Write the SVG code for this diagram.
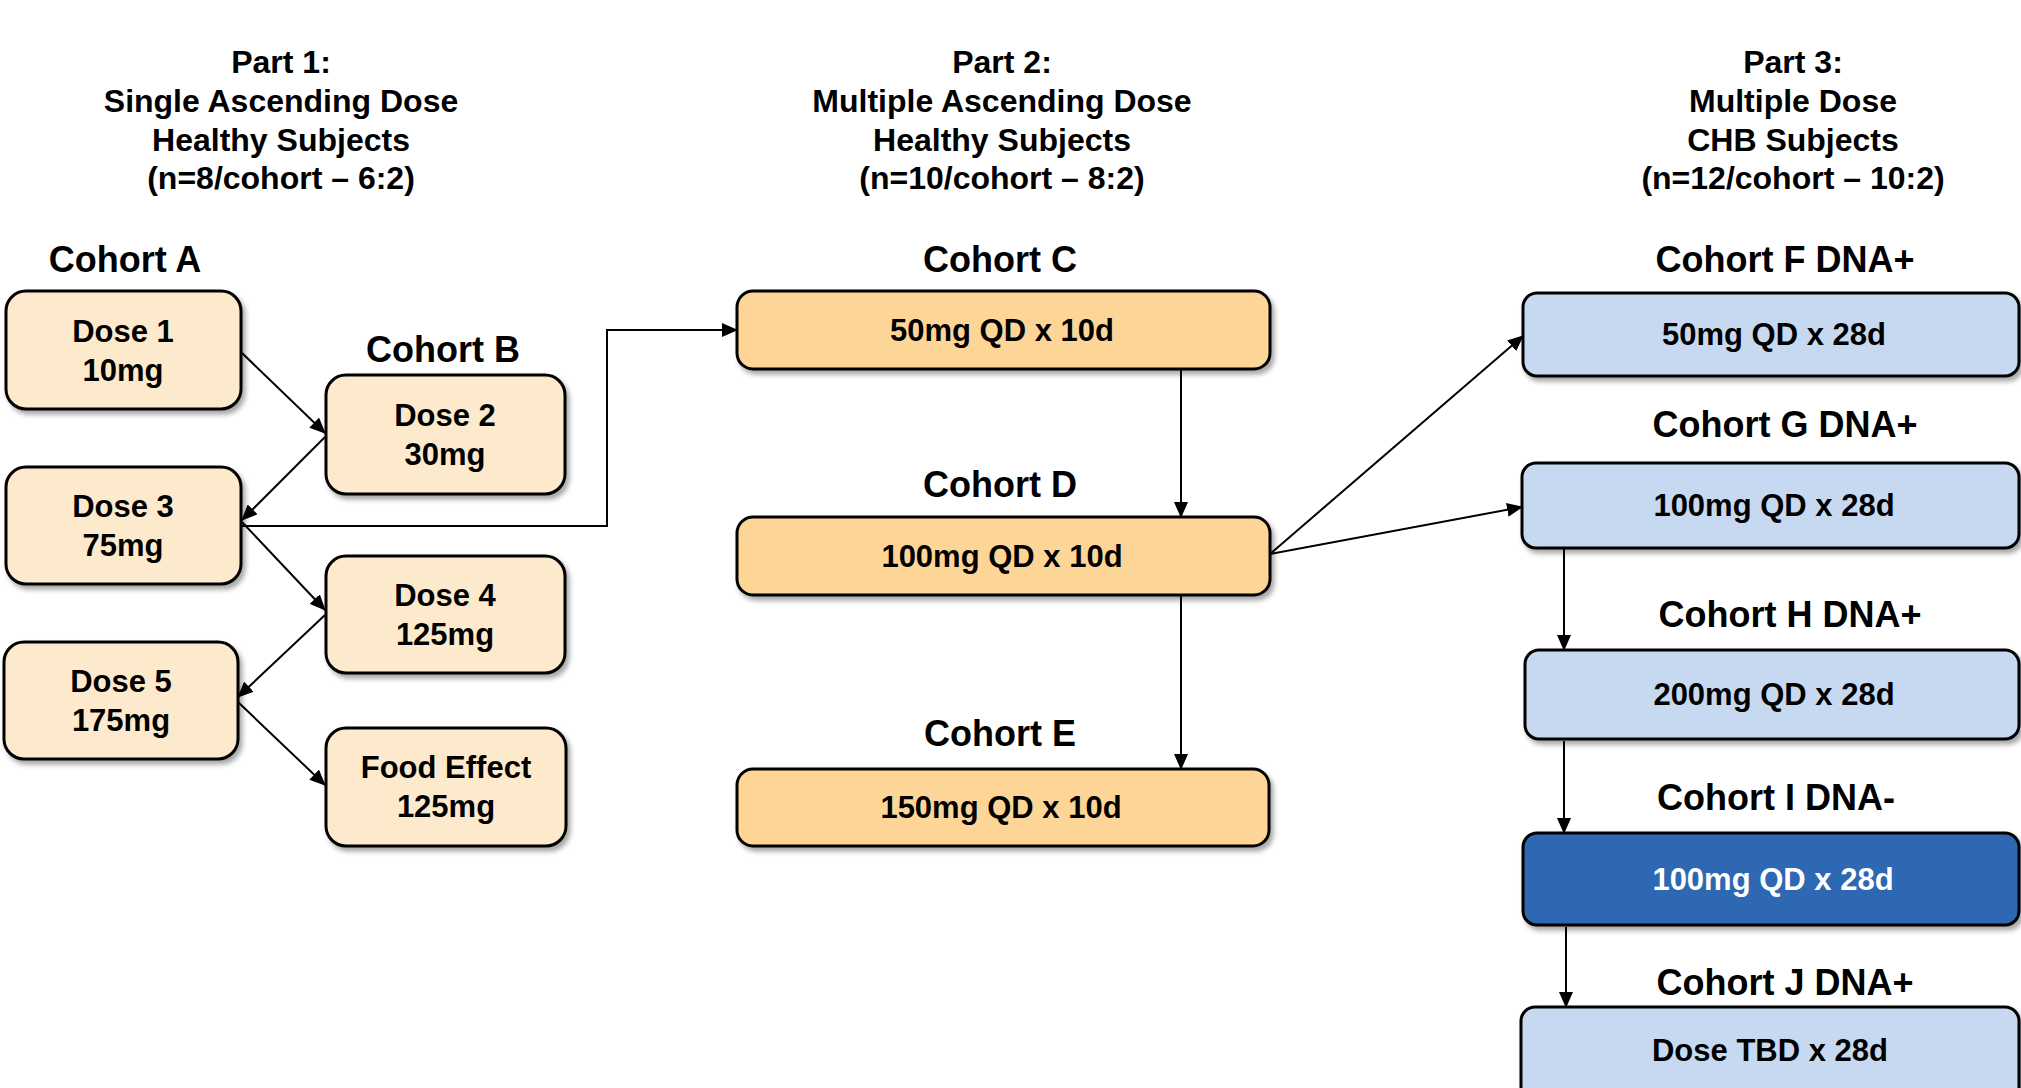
<svg xmlns="http://www.w3.org/2000/svg" width="2021" height="1088" viewBox="0 0 2021 1088">
  <style>
    text { font-family: "Liberation Sans", Arial, sans-serif; font-weight: bold; fill: #000; text-anchor: middle; }
    .title { font-size: 32px; }
    .cohort { font-size: 36px; }
    .lbl { font-size: 31px; }
    .lbl-inv { font-size: 31px; fill: #fff; }
    .box { stroke: #000; stroke-width: 3; filter: url(#shadow); }
    .sad { fill: #FDEACC; }
    .mad { fill: #FDD596; }
    .chb { fill: #C6D9F1; }
    .chb-neg { fill: #2F67B2; }
    .conn { fill: none; stroke: #000; stroke-width: 2; marker-end: url(#arrow); }
  </style>
  <defs>
    <filter id="shadow" x="-10%" y="-10%" width="125%" height="140%">
      <feDropShadow dx="3" dy="4" stdDeviation="2.5" flood-color="#000" flood-opacity="0.35"/>
    </filter>
    <marker id="arrow" markerUnits="userSpaceOnUse" markerWidth="16" markerHeight="14" refX="15" refY="7" orient="auto">
      <path d="M0,0 L16,7 L0,14 Z" fill="#000"/>
    </marker>
  </defs>

  <rect width="2021" height="1088" fill="#fff"/>

  <!-- Part headings -->
  <g id="part1-heading" class="title">
    <text x="281" y="73" class="title">Part 1:</text>
    <text x="281" y="112" class="title">Single Ascending Dose</text>
    <text x="281" y="151" class="title">Healthy Subjects</text>
    <text x="281" y="189" class="title">(n=8/cohort – 6:2)</text>
  </g>
  <g id="part2-heading">
    <text x="1002" y="73" class="title">Part 2:</text>
    <text x="1002" y="112" class="title">Multiple Ascending Dose</text>
    <text x="1002" y="151" class="title">Healthy Subjects</text>
    <text x="1002" y="189" class="title">(n=10/cohort – 8:2)</text>
  </g>
  <g id="part3-heading">
    <text x="1793" y="73" class="title">Part 3:</text>
    <text x="1793" y="112" class="title">Multiple Dose</text>
    <text x="1793" y="151" class="title">CHB Subjects</text>
    <text x="1793" y="189" class="title">(n=12/cohort – 10:2)</text>
  </g>

  <!-- Cohort labels -->
  <g id="cohort-labels">
    <text x="125" y="272" class="cohort">Cohort A</text>
    <text x="443" y="362" class="cohort">Cohort B</text>
    <text x="1000" y="272" class="cohort">Cohort C</text>
    <text x="1000" y="497" class="cohort">Cohort D</text>
    <text x="1000" y="746" class="cohort">Cohort E</text>
    <text x="1785" y="272" class="cohort">Cohort F DNA+</text>
    <text x="1785" y="437" class="cohort">Cohort G DNA+</text>
    <text x="1790" y="627" class="cohort">Cohort H DNA+</text>
    <text x="1776" y="810" class="cohort">Cohort I DNA-</text>
    <text x="1785" y="995" class="cohort">Cohort J DNA+</text>
  </g>

  <!-- Connectors -->
  <g id="connectors">
    <line class="conn" x1="242" y1="353" x2="325" y2="433"/>
    <line class="conn" x1="325" y1="437" x2="242" y2="520"/>
    <line class="conn" x1="242" y1="522" x2="325" y2="610"/>
    <polyline class="conn" points="242,526 607,526 607,330 737,330"/>
    <line class="conn" x1="325" y1="615" x2="238" y2="697"/>
    <line class="conn" x1="238" y1="702" x2="325" y2="785"/>
    <line class="conn" x1="1181" y1="369" x2="1181" y2="517"/>
    <line class="conn" x1="1181" y1="595" x2="1181" y2="769"/>
    <line class="conn" x1="1270" y1="554" x2="1523" y2="336"/>
    <line class="conn" x1="1270" y1="554" x2="1522" y2="507"/>
    <line class="conn" x1="1564" y1="548" x2="1564" y2="650"/>
    <line class="conn" x1="1564" y1="741" x2="1564" y2="833"/>
    <line class="conn" x1="1566" y1="927" x2="1566" y2="1007"/>
  </g>

  <!-- Part 1: single ascending dose -->
  <g id="dose1">
    <rect class="box sad" x="6" y="291" width="235" height="118" rx="20"/>
    <text x="123" y="342" class="lbl">Dose 1</text>
    <text x="123" y="381" class="lbl">10mg</text>
  </g>
  <g id="dose2">
    <rect class="box sad" x="326" y="375" width="239" height="119" rx="20"/>
    <text x="445" y="426" class="lbl">Dose 2</text>
    <text x="445" y="465" class="lbl">30mg</text>
  </g>
  <g id="dose3">
    <rect class="box sad" x="6" y="467" width="235" height="117" rx="20"/>
    <text x="123" y="517" class="lbl">Dose 3</text>
    <text x="123" y="556" class="lbl">75mg</text>
  </g>
  <g id="dose4">
    <rect class="box sad" x="326" y="556" width="239" height="117" rx="20"/>
    <text x="445" y="606" class="lbl">Dose 4</text>
    <text x="445" y="645" class="lbl">125mg</text>
  </g>
  <g id="dose5">
    <rect class="box sad" x="4" y="642" width="234" height="117" rx="20"/>
    <text x="121" y="692" class="lbl">Dose 5</text>
    <text x="121" y="731" class="lbl">175mg</text>
  </g>
  <g id="food-effect">
    <rect class="box sad" x="326" y="728" width="240" height="118" rx="20"/>
    <text x="446" y="778" class="lbl">Food Effect</text>
    <text x="446" y="817" class="lbl">125mg</text>
  </g>

  <!-- Part 2: multiple ascending dose -->
  <g id="cohort-c">
    <rect class="box mad" x="737" y="291" width="533" height="78" rx="16"/>
    <text x="1002" y="341" class="lbl">50mg QD x 10d</text>
  </g>
  <g id="cohort-d">
    <rect class="box mad" x="737" y="517" width="533" height="78" rx="16"/>
    <text x="1002" y="567" class="lbl">100mg QD x 10d</text>
  </g>
  <g id="cohort-e">
    <rect class="box mad" x="737" y="769" width="532" height="77" rx="16"/>
    <text x="1001" y="818" class="lbl">150mg QD x 10d</text>
  </g>

  <!-- Part 3: CHB subjects -->
  <g id="cohort-f">
    <rect class="box chb" x="1523" y="293" width="496" height="83" rx="14"/>
    <text x="1774" y="345" class="lbl">50mg QD x 28d</text>
  </g>
  <g id="cohort-g">
    <rect class="box chb" x="1522" y="463" width="497" height="85" rx="14"/>
    <text x="1774" y="516" class="lbl">100mg QD x 28d</text>
  </g>
  <g id="cohort-h">
    <rect class="box chb" x="1525" y="650" width="494" height="89" rx="14"/>
    <text x="1774" y="705" class="lbl">200mg QD x 28d</text>
  </g>
  <g id="cohort-i">
    <rect class="box chb-neg" x="1523" y="833" width="496" height="92" rx="14"/>
    <text x="1773" y="890" class="lbl-inv">100mg QD x 28d</text>
  </g>
  <g id="cohort-j">
    <rect class="box chb" x="1521" y="1007" width="498" height="100" rx="14"/>
    <text x="1770" y="1061" class="lbl">Dose TBD x 28d</text>
  </g>
</svg>
